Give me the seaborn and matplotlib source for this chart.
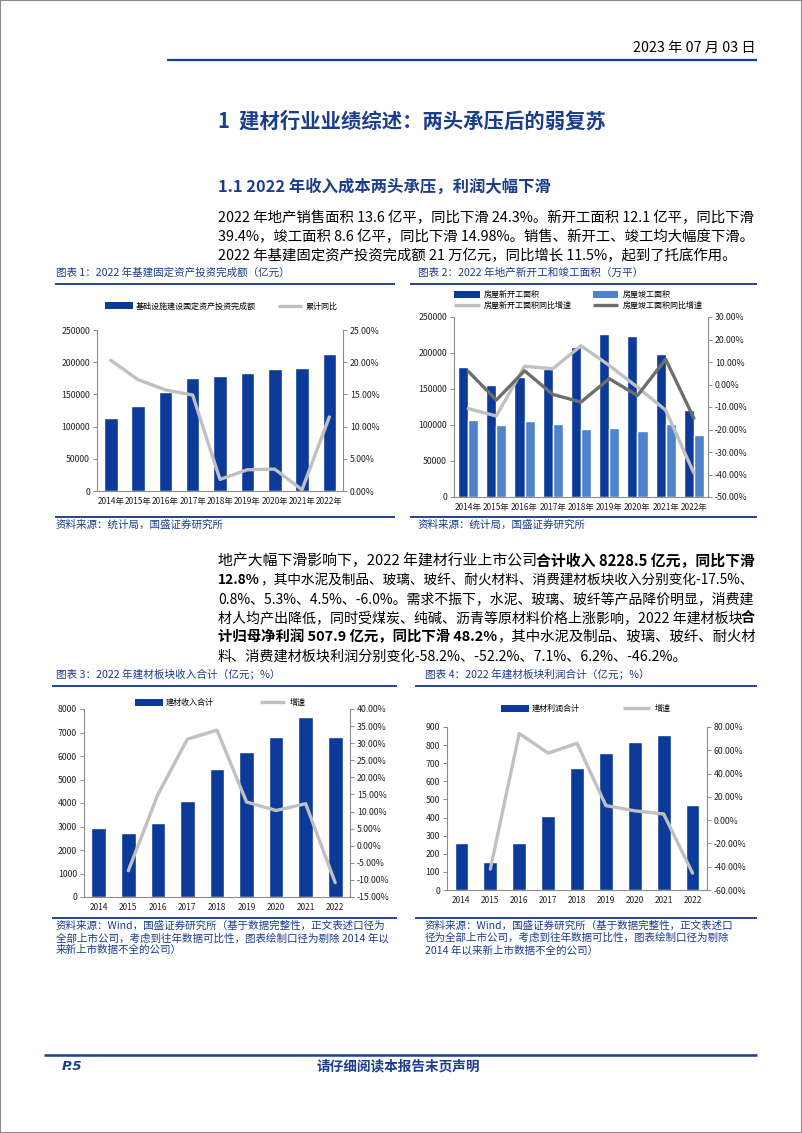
import numpy as np
import pandas as pd
import matplotlib
matplotlib.use("Agg")
import matplotlib.pyplot as plt
import seaborn as sns
from matplotlib.patches import Rectangle
from matplotlib.lines import Line2D
from matplotlib.ticker import FuncFormatter, MultipleLocator

# ---------------- data ----------------
years = ["2014", "2015", "2016", "2017", "2018", "2019", "2020", "2021", "2022"]
years_nian = [y + "年" for y in years]

infra_invest = [113000, 132000, 153000, 175000, 178000, 184000, 190000, 190500, 212000]
infra_yoy = [20.3, 17.3, 15.7, 14.9, 1.8, 3.3, 3.4, 0.2, 11.5]

new_start_area = [180000, 155000, 167000, 178000, 209000, 227000, 224000, 199000, 121000]
completed_area = [107000, 100000, 106000, 101000, 94000, 96000, 91000, 101000, 86000]
new_start_yoy = [-10.7, -14.0, 8.1, 7.0, 17.2, 8.5, -1.2, -11.4, -39.4]
completed_yoy = [5.9, -6.9, 6.1, -4.4, -7.8, 2.6, -4.9, 11.2, -15.0]

bm_revenue = [2940, 2720, 3150, 4100, 5460, 6160, 6800, 7650, 6810]
bm_revenue_growth = [np.nan, -7.3, 15.0, 31.2, 33.8, 12.8, 10.3, 12.3, -10.8]

bm_profit = [262, 153, 262, 411, 673, 756, 817, 858, 467]
bm_profit_growth = [np.nan, -42.0, 74.5, 57.5, 66.0, 12.5, 8.0, 5.3, -45.5]

# ---------------- style ----------------
sns.set_theme(style="white")
plt.rcParams["font.family"] = ["Noto Sans CJK SC", "DejaVu Sans"]
plt.rcParams["axes.unicode_minus"] = False

W, H = 802, 1133
BLUE = "#0C3A98"
LBLUE = "#4F83CC"
LGRAY = "#C0C0C0"
DGRAY = "#6E6E6E"
NAVY = "#1B3D8C"
RULE = "#24448F"
SPINE = "#8C8C8C"

fig = plt.figure(figsize=(W / 100, H / 100), dpi=100)
fig.patch.set_facecolor("white")
renderer = fig.canvas.get_renderer()


def fx(x):
    return x / W


def fy(y):
    return 1 - y / H


def hline(x0, x1, y, color=RULE, lw=1.4):
    fig.add_artist(Line2D([fx(x0), fx(x1)], [fy(y), fy(y)], transform=fig.transFigure,
                          color=color, lw=lw, solid_capstyle="butt"))


def text_width(s, size, weight="normal"):
    t = fig.text(0, 0, s, fontsize=size, fontweight=weight)
    w = t.get_window_extent(renderer).width
    t.remove()
    return w


def draw_segments(x, y, segs, size, color="black", target=None):
    widths = [text_width(s, size, w) for s, w in segs]
    total = sum(widths)
    if target is not None:
        k = target / total
        size = size * k
        widths = [w * k for w in widths]
    cx = x
    for (s, w), wd in zip(segs, widths):
        fig.text(fx(cx), fy(y), s, fontsize=size, fontweight=w, color=color,
                 ha="left", va="center")
        cx += wd
    return size


def legend_rect(x0, x1, y, color, label, lx, size=5.8):
    fig.add_artist(Rectangle((fx(x0), fy(y + 3.5)), fx(x1) - fx(x0), 7 / H,
                             transform=fig.transFigure, color=color, lw=0))
    fig.text(fx(lx), fy(y), label, fontsize=size, ha="left", va="center", color="black")


def legend_line(x0, x1, y, color, label, lx, size=5.8):
    fig.add_artist(Line2D([fx(x0), fx(x1)], [fy(y), fy(y)], transform=fig.transFigure,
                          color=color, lw=2.4, solid_capstyle="butt"))
    fig.text(fx(lx), fy(y), label, fontsize=size, ha="left", va="center", color="black")


def make_axes(l, t, r, b):
    return fig.add_axes([fx(l), fy(b), fx(r) - fx(l), (b - t) / H])


def style_axes(ax, ax2, ylim, ystep, y2lim, y2step, fs=6.3, xfs=6.0):
    ax.set_ylim(*ylim)
    ax.yaxis.set_major_locator(MultipleLocator(ystep))
    ax2.set_ylim(*y2lim)
    ax2.yaxis.set_major_locator(MultipleLocator(y2step))
    ax2.yaxis.set_major_formatter(FuncFormatter(lambda v, p: f"{v:.2f}%"))
    ax.yaxis.set_major_formatter(FuncFormatter(lambda v, p: f"{int(round(v))}"))
    for a in (ax, ax2):
        a.set_xlabel("")
        a.set_ylabel("")
        a.grid(False)
        a.set_facecolor("none")
        for sp in a.spines.values():
            sp.set_visible(False)
    ax.spines["left"].set_visible(True)
    ax.spines["bottom"].set_visible(True)
    ax2.spines["right"].set_visible(True)
    for a, sp in ((ax, "left"), (ax, "bottom"), (ax2, "right")):
        a.spines[sp].set_color(SPINE)
        a.spines[sp].set_linewidth(0.8)
    ax.tick_params(axis="y", which="major", direction="out", length=3, width=0.7,
                   color=SPINE, labelsize=fs, pad=2, left=True)
    ax2.tick_params(axis="y", which="major", direction="out", length=3, width=0.7,
                    color=SPINE, labelsize=fs, pad=2, right=True)
    ax.tick_params(axis="x", length=0, labelsize=xfs, pad=4)
    ax.set_xlim(-0.5, len(years) - 0.5)
    for lab in ax.get_xticklabels() + ax.get_yticklabels() + ax2.get_yticklabels():
        lab.set_color("#222222")


# ---------------- page frame & header ----------------
fig.add_artist(Rectangle((0, 0), 1, 1, transform=fig.transFigure, fill=False,
                         edgecolor="#8A8A8A", lw=1.5))
date_size = draw_segments(633, 48, [("2023 年 07 月 03 日", "normal")], 10, target=122)
hline(167, 757, 60, color=NAVY, lw=1.6)

draw_segments(218, 121, [("1  建材行业业绩综述：两头承压后的弱复苏", "bold")], 13.5,
              color=NAVY, target=387)
draw_segments(218, 186, [("1.1 2022 年收入成本两头承压，利润大幅下滑", "bold")], 11.5,
              color=NAVY, target=332)

# paragraph 1
p1 = [
    [("2022 年地产销售面积 13.6 亿平，同比下滑 24.3%。新开工面积 12.1 亿平，同比下滑", "normal")],
    [("39.4%，竣工面积 8.6 亿平，同比下滑 14.98%。销售、新开工、竣工均大幅度下滑。", "normal")],
    [("2022 年基建固定资产投资完成额 21 万亿元，同比增长 11.5%，起到了托底作用。", "normal")],
]
sizes = []
for i, segs in enumerate(p1[:2]):
    sizes.append(draw_segments(218, 218 + 19 * i, segs, 10, target=537))
draw_segments(218, 218 + 19 * 2, p1[2], float(np.mean(sizes)))

# paragraph 2
p2 = [
    [("地产大幅下滑影响下，2022 年建材行业上市公司", "normal"), ("合计收入 8228.5 亿元，同比下滑", "bold")],
    [("12.8%", "bold"), ("，其中水泥及制品、玻璃、玻纤、耐火材料、消费建材板块收入分别变化-17.5%、", "normal")],
    [("0.8%、5.3%、4.5%、-6.0%。需求不振下，水泥、玻璃、玻纤等产品降价明显，消费建", "normal")],
    [("材人均产出降低，同时受煤炭、纯碱、沥青等原材料价格上涨影响，2022 年建材板块", "normal"), ("合", "bold")],
    [("计归母净利润 507.9 亿元，同比下滑 48.2%", "bold"), ("，其中水泥及制品、玻璃、玻纤、耐火材", "normal")],
    [("料、消费建材板块利润分别变化-58.2%、-52.2%、7.1%、6.2%、-46.2%。", "normal")],
]
sizes = []
for i, segs in enumerate(p2[:5]):
    sizes.append(draw_segments(218, 561 + 19 * i, segs, 10, target=537))
draw_segments(218, 561 + 19 * 5, p2[5], float(np.mean(sizes)))

# ---------------- chart titles / sources ----------------
def chart_frame(x0, x1, title, ty, uy, sy, src_lines, tx=None, title_w=None):
    tx = x0 + 1 if tx is None else tx
    draw_segments(tx, ty, [(title, "normal")], 7.5, color=NAVY, target=title_w)
    hline(x0, x1, uy)
    hline(x0, x1, sy)
    for i, s in enumerate(src_lines):
        fig.text(fx(tx), fy(sy + 8 + 12 * i), s, fontsize=7.6, color=NAVY,
                 ha="left", va="center")


chart_frame(55, 395, "图表 1：2022 年基建固定资产投资完成额（亿元）", 273, 284, 517,
            ["资料来源：统计局，国盛证券研究所"], title_w=234)
chart_frame(410, 757, "图表 2：2022 年地产新开工和竣工面积（万平）", 273, 284, 517,
            ["资料来源：统计局，国盛证券研究所"], tx=418, title_w=225)
chart_frame(52, 397, "图表 3：2022 年建材板块收入合计（亿元；%）", 675, 686, 918,
            ["资料来源：Wind，国盛证券研究所（基于数据完整性，正文表述口径为",
             "全部上市公司，考虑到往年数据可比性，图表绘制口径为剔除 2014 年以",
             "来新上市数据不全的公司）"], tx=56, title_w=224)
chart_frame(415, 757, "图表 4：2022 年建材板块利润合计（亿元；%）", 675, 686, 918,
            ["资料来源：Wind，国盛证券研究所（基于数据完整性，正文表述口",
             "径为全部上市公司，考虑到往年数据可比性，图表绘制口径为剔除",
             "2014 年以来新上市数据不全的公司）"], tx=425, title_w=224)

idx = np.arange(len(years))

# ---------------- chart 1 ----------------
ax = make_axes(97, 330, 343, 491)
df1 = pd.DataFrame({"year": years_nian, "val": infra_invest})
sns.barplot(data=df1, x="year", y="val", color=BLUE, saturation=1, width=0.5, ax=ax)
ax2 = ax.twinx()
sns.lineplot(x=idx, y=infra_yoy, ax=ax2, color=LGRAY, linewidth=2.4)
style_axes(ax, ax2, (0, 250000), 50000, (0, 25), 5)
legend_rect(105, 133, 306, BLUE, "基础设施建设固定资产投资完成额", 136)
legend_line(278, 302, 306, LGRAY, "累计同比", 306)

# ---------------- chart 2 ----------------
ax = make_axes(454, 317, 708, 497)
df2 = pd.DataFrame({
    "year": years_nian * 2,
    "val": new_start_area + completed_area,
    "series": ["房屋新开工面积"] * len(years) + ["房屋竣工面积"] * len(years),
})
sns.barplot(data=df2, x="year", y="val", hue="series", palette=[BLUE, LBLUE],
            saturation=1, width=0.72, ax=ax, legend=False)
ax2 = ax.twinx()
sns.lineplot(x=idx, y=new_start_yoy, ax=ax2, color=LGRAY, linewidth=2.4)
sns.lineplot(x=idx, y=completed_yoy, ax=ax2, color=DGRAY, linewidth=2.4)
style_axes(ax, ax2, (0, 250000), 50000, (-50, 30), 10)
legend_rect(454, 480, 295, BLUE, "房屋新开工面积", 484)
legend_rect(593, 618, 295, LBLUE, "房屋竣工面积", 623)
legend_line(454, 480, 305, LGRAY, "房屋新开工面积同比增速", 484)
legend_line(593, 618, 305, DGRAY, "房屋竣工面积同比增速", 623)

# ---------------- chart 3 ----------------
ax = make_axes(84, 709, 350, 897)
df3 = pd.DataFrame({"year": years, "val": bm_revenue})
sns.barplot(data=df3, x="year", y="val", color=BLUE, saturation=1, width=0.5, ax=ax)
ax2 = ax.twinx()
sns.lineplot(x=idx, y=bm_revenue_growth, ax=ax2, color=LGRAY, linewidth=2.4)
style_axes(ax, ax2, (0, 8000), 1000, (-15, 40), 5)
legend_rect(135, 163, 702, BLUE, "建材收入合计", 166)
legend_line(260, 285, 702, LGRAY, "增速", 290)

# ---------------- chart 4 ----------------
ax = make_axes(447, 727, 707, 890)
df4 = pd.DataFrame({"year": years, "val": bm_profit})
sns.barplot(data=df4, x="year", y="val", color=BLUE, saturation=1, width=0.48, ax=ax)
ax2 = ax.twinx()
sns.lineplot(x=idx, y=bm_profit_growth, ax=ax2, color=LGRAY, linewidth=2.4)
style_axes(ax, ax2, (0, 900), 100, (-60, 80), 20)
legend_rect(501, 529, 708, BLUE, "建材利润合计", 532)
legend_line(623, 650, 708, LGRAY, "增速", 655)

# ---------------- footer ----------------
hline(44, 757, 1055, color=NAVY, lw=1.8)
fig.text(fx(62), fy(1066), "P.5", fontsize=9.5, fontweight="bold", fontstyle="italic",
         color=NAVY, ha="left", va="center", family=["DejaVu Sans"])
draw_segments(317, 1066, [("请仔细阅读本报告末页声明", "bold")], 9, color=NAVY, target=164)

fig.savefig("out.png", dpi=100, facecolor="white")
